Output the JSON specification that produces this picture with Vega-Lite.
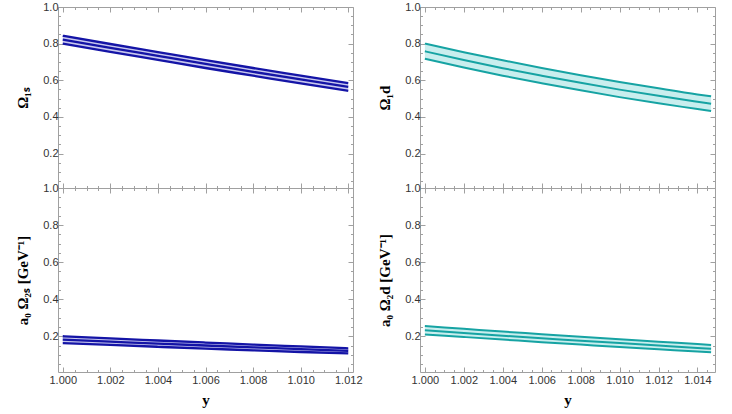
{
  "$schema": "https://vega.github.io/schema/vega-lite/v6.json",
  "background": "white",
  "padding": {"left": 15, "top": 0, "right": 5, "bottom": 3},
  "spacing": 14,
  "datasets": {
    "s1": [
      {"x": 1.000, "lo": 0.800, "mid": 0.822, "hi": 0.843},
      {"x": 1.002, "lo": 0.755, "mid": 0.777, "hi": 0.798},
      {"x": 1.004, "lo": 0.711, "mid": 0.733, "hi": 0.754},
      {"x": 1.006, "lo": 0.667, "mid": 0.689, "hi": 0.710},
      {"x": 1.008, "lo": 0.625, "mid": 0.646, "hi": 0.667},
      {"x": 1.010, "lo": 0.583, "mid": 0.605, "hi": 0.626},
      {"x": 1.012, "lo": 0.542, "mid": 0.564, "hi": 0.585}
    ],
    "s2": [
      {"x": 1.000, "lo": 0.163, "mid": 0.182, "hi": 0.200},
      {"x": 1.002, "lo": 0.153, "mid": 0.171, "hi": 0.188},
      {"x": 1.004, "lo": 0.143, "mid": 0.160, "hi": 0.177},
      {"x": 1.006, "lo": 0.133, "mid": 0.150, "hi": 0.166},
      {"x": 1.008, "lo": 0.124, "mid": 0.140, "hi": 0.155},
      {"x": 1.010, "lo": 0.115, "mid": 0.130, "hi": 0.145},
      {"x": 1.012, "lo": 0.107, "mid": 0.121, "hi": 0.135}
    ],
    "d1": [
      {"x": 1.000, "lo": 0.718, "mid": 0.758, "hi": 0.800},
      {"x": 1.002, "lo": 0.670, "mid": 0.711, "hi": 0.753},
      {"x": 1.004, "lo": 0.625, "mid": 0.666, "hi": 0.709},
      {"x": 1.006, "lo": 0.584, "mid": 0.625, "hi": 0.667},
      {"x": 1.008, "lo": 0.545, "mid": 0.586, "hi": 0.628},
      {"x": 1.010, "lo": 0.508, "mid": 0.549, "hi": 0.591},
      {"x": 1.012, "lo": 0.474, "mid": 0.515, "hi": 0.556},
      {"x": 1.014, "lo": 0.443, "mid": 0.483, "hi": 0.523},
      {"x": 1.0147, "lo": 0.432, "mid": 0.472, "hi": 0.513}
    ],
    "d2": [
      {"x": 1.000, "lo": 0.210, "mid": 0.232, "hi": 0.255},
      {"x": 1.002, "lo": 0.196, "mid": 0.218, "hi": 0.240},
      {"x": 1.004, "lo": 0.182, "mid": 0.203, "hi": 0.225},
      {"x": 1.006, "lo": 0.168, "mid": 0.189, "hi": 0.211},
      {"x": 1.008, "lo": 0.155, "mid": 0.176, "hi": 0.197},
      {"x": 1.010, "lo": 0.142, "mid": 0.163, "hi": 0.184},
      {"x": 1.012, "lo": 0.130, "mid": 0.150, "hi": 0.170},
      {"x": 1.014, "lo": 0.117, "mid": 0.137, "hi": 0.158},
      {"x": 1.0147, "lo": 0.113, "mid": 0.133, "hi": 0.153}
    ]
  },
  "hconcat": [
    {
      "spacing": 0,
      "bounds": "flush",
      "vconcat": [
        {
          "width": 295, "height": 181,
          "data": {"name": "s1"},
          "layer": [
            {"mark": {"type": "area", "color": "#c8c8ee", "interpolate": "monotone"},
             "encoding": {
               "x": {"field": "x", "type": "quantitative", "scale": {"domain": [0.9998, 1.0122], "nice": false, "zero": false},
                     "axis": {"orient": "bottom", "values": [1.000, 1.002, 1.004, 1.006, 1.008, 1.010, 1.012], "labels": false, "tickSize": -5, "domain": false, "title": null}},
               "y": {"field": "lo", "type": "quantitative", "scale": {"domain": [0.012, 1.0], "nice": false, "zero": false},
                     "axis": {"orient": "left", "values": [0.2, 0.4, 0.6, 0.8, 1.0], "format": ".1f", "tickSize": -5, "labelPadding": 5, "domain": false, "labelFlush": false, "title": "Ω₁ₛ", "titlePadding": 12}},
               "y2": {"field": "hi"}
             }},
            {"mark": {"type": "line", "color": "#1414a6", "strokeWidth": 2.3, "interpolate": "monotone"},
             "encoding": {
               "x": {"field": "x", "type": "quantitative",
                     "axis": {"orient": "bottom", "values": [1.0005, 1.001, 1.0015, 1.0025, 1.003, 1.0035, 1.0045, 1.005, 1.0055, 1.0065, 1.007, 1.0075, 1.0085, 1.009, 1.0095, 1.0105, 1.011, 1.0115], "labels": false, "tickSize": -2.5, "domain": false, "title": null}},
               "y": {"field": "lo", "type": "quantitative",
                     "axis": {"orient": "left", "values": [0.05, 0.1, 0.15, 0.25, 0.3, 0.35, 0.45, 0.5, 0.55, 0.65, 0.7, 0.75, 0.85, 0.9, 0.95], "labels": false, "tickSize": -2.5, "domain": false, "title": null}}
             }},
            {"mark": {"type": "line", "color": "#1414a6", "strokeWidth": 2.3, "interpolate": "monotone"},
             "encoding": {
               "x": {"field": "x", "type": "quantitative",
                     "axis": {"orient": "top", "values": [1.000, 1.002, 1.004, 1.006, 1.008, 1.010, 1.012], "labels": false, "tickSize": -5, "domain": false, "title": null}},
               "y": {"field": "mid", "type": "quantitative",
                     "axis": {"orient": "right", "values": [0.2, 0.4, 0.6, 0.8, 1.0], "labels": false, "tickSize": -5, "domain": false, "title": null}}
             }},
            {"mark": {"type": "line", "color": "#1414a6", "strokeWidth": 2.3, "interpolate": "monotone"},
             "encoding": {
               "x": {"field": "x", "type": "quantitative",
                     "axis": {"orient": "top", "values": [1.0005, 1.001, 1.0015, 1.0025, 1.003, 1.0035, 1.0045, 1.005, 1.0055, 1.0065, 1.007, 1.0075, 1.0085, 1.009, 1.0095, 1.0105, 1.011, 1.0115], "labels": false, "tickSize": -2.5, "domain": false, "title": null}},
               "y": {"field": "hi", "type": "quantitative",
                     "axis": {"orient": "right", "values": [0.05, 0.1, 0.15, 0.25, 0.3, 0.35, 0.45, 0.5, 0.55, 0.65, 0.7, 0.75, 0.85, 0.9, 0.95], "labels": false, "tickSize": -2.5, "domain": false, "title": null}}
             }}
          ],
          "resolve": {"axis": {"x": "independent", "y": "independent"}}
        },
        {
          "width": 295, "height": 184,
          "data": {"name": "s2"},
          "layer": [
            {"mark": {"type": "area", "color": "#c8c8ee", "interpolate": "monotone"},
             "encoding": {
               "x": {"field": "x", "type": "quantitative", "scale": {"domain": [0.9998, 1.0122], "nice": false, "zero": false},
                     "axis": {"orient": "bottom", "values": [1.000, 1.002, 1.004, 1.006, 1.008, 1.010, 1.012], "format": ".3f", "labels": true, "tickSize": -5, "labelPadding": 7, "labelFlush": false, "domain": false, "title": "y", "titlePadding": 7}},
               "y": {"field": "lo", "type": "quantitative", "scale": {"domain": [0.007, 1.0], "nice": false, "zero": false},
                     "axis": {"orient": "left", "values": [0.2, 0.4, 0.6, 0.8, 1.0], "format": ".1f", "tickSize": -5, "labelPadding": 5, "domain": false, "labelFlush": false, "title": "a₀ Ω₂ₛ [GeV⁻¹]", "titlePadding": 12}},
               "y2": {"field": "hi"}
             }},
            {"mark": {"type": "line", "color": "#1414a6", "strokeWidth": 2.3, "interpolate": "monotone"},
             "encoding": {
               "x": {"field": "x", "type": "quantitative",
                     "axis": {"orient": "bottom", "values": [1.0005, 1.001, 1.0015, 1.0025, 1.003, 1.0035, 1.0045, 1.005, 1.0055, 1.0065, 1.007, 1.0075, 1.0085, 1.009, 1.0095, 1.0105, 1.011, 1.0115], "labels": false, "tickSize": -2.5, "domain": false, "title": null}},
               "y": {"field": "lo", "type": "quantitative",
                     "axis": {"orient": "left", "values": [0.05, 0.1, 0.15, 0.25, 0.3, 0.35, 0.45, 0.5, 0.55, 0.65, 0.7, 0.75, 0.85, 0.9, 0.95], "labels": false, "tickSize": -2.5, "domain": false, "title": null}}
             }},
            {"mark": {"type": "line", "color": "#1414a6", "strokeWidth": 2.3, "interpolate": "monotone"},
             "encoding": {
               "x": {"field": "x", "type": "quantitative",
                     "axis": {"orient": "top", "values": [1.000, 1.002, 1.004, 1.006, 1.008, 1.010, 1.012], "labels": false, "tickSize": -5, "domain": false, "title": null}},
               "y": {"field": "mid", "type": "quantitative",
                     "axis": {"orient": "right", "values": [0.2, 0.4, 0.6, 0.8, 1.0], "labels": false, "tickSize": -5, "domain": false, "title": null}}
             }},
            {"mark": {"type": "line", "color": "#1414a6", "strokeWidth": 2.3, "interpolate": "monotone"},
             "encoding": {
               "x": {"field": "x", "type": "quantitative",
                     "axis": {"orient": "top", "values": [1.0005, 1.001, 1.0015, 1.0025, 1.003, 1.0035, 1.0045, 1.005, 1.0055, 1.0065, 1.007, 1.0075, 1.0085, 1.009, 1.0095, 1.0105, 1.011, 1.0115], "labels": false, "tickSize": -2.5, "domain": false, "title": null}},
               "y": {"field": "hi", "type": "quantitative",
                     "axis": {"orient": "right", "values": [0.05, 0.1, 0.15, 0.25, 0.3, 0.35, 0.45, 0.5, 0.55, 0.65, 0.7, 0.75, 0.85, 0.9, 0.95], "labels": false, "tickSize": -2.5, "domain": false, "title": null}}
             }}
          ],
          "resolve": {"axis": {"x": "independent", "y": "independent"}}
        }
      ]
    },
    {
      "spacing": 0,
      "bounds": "flush",
      "vconcat": [
        {
          "width": 295, "height": 181,
          "data": {"name": "d1"},
          "layer": [
            {"mark": {"type": "area", "color": "#c9eeee", "interpolate": "monotone"},
             "encoding": {
               "x": {"field": "x", "type": "quantitative", "scale": {"domain": [0.99975, 1.0149], "nice": false, "zero": false},
                     "axis": {"orient": "bottom", "values": [1.000, 1.002, 1.004, 1.006, 1.008, 1.010, 1.012, 1.014], "labels": false, "tickSize": -5, "domain": false, "title": null}},
               "y": {"field": "lo", "type": "quantitative", "scale": {"domain": [0.012, 1.0], "nice": false, "zero": false},
                     "axis": {"orient": "left", "values": [0.2, 0.4, 0.6, 0.8, 1.0], "format": ".1f", "tickSize": -5, "labelPadding": 5, "domain": false, "labelFlush": false, "title": "Ω₁d", "titlePadding": 12}},
               "y2": {"field": "hi"}
             }},
            {"mark": {"type": "line", "color": "#16a3a3", "strokeWidth": 2, "interpolate": "monotone"},
             "encoding": {
               "x": {"field": "x", "type": "quantitative",
                     "axis": {"orient": "bottom", "values": [1.0005, 1.001, 1.0015, 1.0025, 1.003, 1.0035, 1.0045, 1.005, 1.0055, 1.0065, 1.007, 1.0075, 1.0085, 1.009, 1.0095, 1.0105, 1.011, 1.0115, 1.0125, 1.013, 1.0135, 1.0145], "labels": false, "tickSize": -2.5, "domain": false, "title": null}},
               "y": {"field": "lo", "type": "quantitative",
                     "axis": {"orient": "left", "values": [0.05, 0.1, 0.15, 0.25, 0.3, 0.35, 0.45, 0.5, 0.55, 0.65, 0.7, 0.75, 0.85, 0.9, 0.95], "labels": false, "tickSize": -2.5, "domain": false, "title": null}}
             }},
            {"mark": {"type": "line", "color": "#16a3a3", "strokeWidth": 2, "interpolate": "monotone"},
             "encoding": {
               "x": {"field": "x", "type": "quantitative",
                     "axis": {"orient": "top", "values": [1.000, 1.002, 1.004, 1.006, 1.008, 1.010, 1.012, 1.014], "labels": false, "tickSize": -5, "domain": false, "title": null}},
               "y": {"field": "mid", "type": "quantitative",
                     "axis": {"orient": "right", "values": [0.2, 0.4, 0.6, 0.8, 1.0], "labels": false, "tickSize": -5, "domain": false, "title": null}}
             }},
            {"mark": {"type": "line", "color": "#16a3a3", "strokeWidth": 2, "interpolate": "monotone"},
             "encoding": {
               "x": {"field": "x", "type": "quantitative",
                     "axis": {"orient": "top", "values": [1.0005, 1.001, 1.0015, 1.0025, 1.003, 1.0035, 1.0045, 1.005, 1.0055, 1.0065, 1.007, 1.0075, 1.0085, 1.009, 1.0095, 1.0105, 1.011, 1.0115, 1.0125, 1.013, 1.0135, 1.0145], "labels": false, "tickSize": -2.5, "domain": false, "title": null}},
               "y": {"field": "hi", "type": "quantitative",
                     "axis": {"orient": "right", "values": [0.05, 0.1, 0.15, 0.25, 0.3, 0.35, 0.45, 0.5, 0.55, 0.65, 0.7, 0.75, 0.85, 0.9, 0.95], "labels": false, "tickSize": -2.5, "domain": false, "title": null}}
             }}
          ],
          "resolve": {"axis": {"x": "independent", "y": "independent"}}
        },
        {
          "width": 295, "height": 184,
          "data": {"name": "d2"},
          "layer": [
            {"mark": {"type": "area", "color": "#c9eeee", "interpolate": "monotone"},
             "encoding": {
               "x": {"field": "x", "type": "quantitative", "scale": {"domain": [0.99975, 1.0149], "nice": false, "zero": false},
                     "axis": {"orient": "bottom", "values": [1.000, 1.002, 1.004, 1.006, 1.008, 1.010, 1.012, 1.014], "format": ".3f", "labels": true, "tickSize": -5, "labelPadding": 7, "labelFlush": false, "domain": false, "title": "y", "titlePadding": 7}},
               "y": {"field": "lo", "type": "quantitative", "scale": {"domain": [0.007, 1.0], "nice": false, "zero": false},
                     "axis": {"orient": "left", "values": [0.2, 0.4, 0.6, 0.8, 1.0], "format": ".1f", "tickSize": -5, "labelPadding": 5, "domain": false, "labelFlush": false, "title": "a₀ Ω₂d [GeV⁻¹]", "titlePadding": 12}},
               "y2": {"field": "hi"}
             }},
            {"mark": {"type": "line", "color": "#16a3a3", "strokeWidth": 2, "interpolate": "monotone"},
             "encoding": {
               "x": {"field": "x", "type": "quantitative",
                     "axis": {"orient": "bottom", "values": [1.0005, 1.001, 1.0015, 1.0025, 1.003, 1.0035, 1.0045, 1.005, 1.0055, 1.0065, 1.007, 1.0075, 1.0085, 1.009, 1.0095, 1.0105, 1.011, 1.0115, 1.0125, 1.013, 1.0135, 1.0145], "labels": false, "tickSize": -2.5, "domain": false, "title": null}},
               "y": {"field": "lo", "type": "quantitative",
                     "axis": {"orient": "left", "values": [0.05, 0.1, 0.15, 0.25, 0.3, 0.35, 0.45, 0.5, 0.55, 0.65, 0.7, 0.75, 0.85, 0.9, 0.95], "labels": false, "tickSize": -2.5, "domain": false, "title": null}}
             }},
            {"mark": {"type": "line", "color": "#16a3a3", "strokeWidth": 2, "interpolate": "monotone"},
             "encoding": {
               "x": {"field": "x", "type": "quantitative",
                     "axis": {"orient": "top", "values": [1.000, 1.002, 1.004, 1.006, 1.008, 1.010, 1.012, 1.014], "labels": false, "tickSize": -5, "domain": false, "title": null}},
               "y": {"field": "mid", "type": "quantitative",
                     "axis": {"orient": "right", "values": [0.2, 0.4, 0.6, 0.8, 1.0], "labels": false, "tickSize": -5, "domain": false, "title": null}}
             }},
            {"mark": {"type": "line", "color": "#16a3a3", "strokeWidth": 2, "interpolate": "monotone"},
             "encoding": {
               "x": {"field": "x", "type": "quantitative",
                     "axis": {"orient": "top", "values": [1.0005, 1.001, 1.0015, 1.0025, 1.003, 1.0035, 1.0045, 1.005, 1.0055, 1.0065, 1.007, 1.0075, 1.0085, 1.009, 1.0095, 1.0105, 1.011, 1.0115, 1.0125, 1.013, 1.0135, 1.0145], "labels": false, "tickSize": -2.5, "domain": false, "title": null}},
               "y": {"field": "hi", "type": "quantitative",
                     "axis": {"orient": "right", "values": [0.05, 0.1, 0.15, 0.25, 0.3, 0.35, 0.45, 0.5, 0.55, 0.65, 0.7, 0.75, 0.85, 0.9, 0.95], "labels": false, "tickSize": -2.5, "domain": false, "title": null}}
             }}
          ],
          "resolve": {"axis": {"x": "independent", "y": "independent"}}
        }
      ]
    }
  ],
  "config": {
    "view": {"stroke": "#a0a0a0", "strokeWidth": 1},
    "axis": {
      "grid": false,
      "labelFont": "Liberation Sans",
      "labelFontSize": 11,
      "labelColor": "#333333",
      "tickColor": "#a0a0a0",
      "tickWidth": 1,
      "titleFont": "Liberation Serif",
      "titleFontWeight": "bold",
      "titleFontSize": 15,
      "titleColor": "#000000"
    }
  }
}
